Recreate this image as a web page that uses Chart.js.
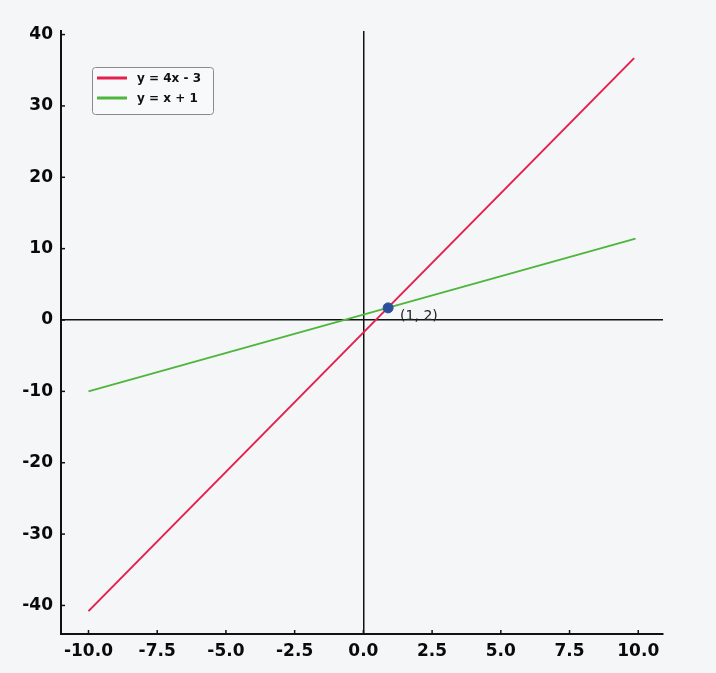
<!DOCTYPE html>
<html>
<head>
<meta charset="utf-8">
<script src="https://cdn.jsdelivr.net/npm/chart.js@4/dist/chart.umd.min.js"></script>
<style>
  html, body { margin: 0; padding: 0; background: #f5f6f8; }
  #wrap { width: 716px; height: 673px; }
</style>
</head>
<body>
<div id="wrap"><canvas id="lineChart"></canvas></div>
<script>
// values
const xTicks = [-10, -7.5, -5, -2.5, 0, 2.5, 5, 7.5, 10];
const yTicks = [-40, -30, -20, -10, 0, 10, 20, 30, 40];
const redX = [-10, 9.85];
const redY = [-40.8, 36.7];
const greenX = [-10, 9.9];
const greenY = [-10, 11.4];
const pointX = [0.9];
const pointY = [1.7];
const pointLabel = '(1, 2)';
const seriesLabels = ['y = 4x - 3', 'y = x + 1'];

const toXY = (xs, ys) => xs.map((x, i) => ({ x: x, y: ys[i] }));

// legend box + inward tick marks + point label
const extras = {
    id: 'extras',
    afterDraw(chart) {
        const ctx = chart.ctx;
        const area = chart.chartArea;
        const xs = chart.scales.x, ys = chart.scales.y;
        ctx.save();

        // tick marks pointing into the plot
        ctx.strokeStyle = '#111';
        ctx.lineWidth = 1.5;
        xTicks.forEach(v => {
            const px = xs.getPixelForValue(v);
            ctx.beginPath();
            ctx.moveTo(px, area.bottom);
            ctx.lineTo(px, area.bottom - 4);
            ctx.stroke();
        });
        yTicks.forEach(v => {
            const py = ys.getPixelForValue(v);
            ctx.beginPath();
            ctx.moveTo(area.left, py);
            ctx.lineTo(area.left + 4, py);
            ctx.stroke();
        });

        // label next to the intersection point
        const meta = chart.getDatasetMeta(2);
        const p = meta.data[0];
        ctx.fillStyle = '#222';
        ctx.font = '14px "DejaVu Sans"';
        ctx.textBaseline = 'middle';
        ctx.textAlign = 'left';
        ctx.fillText(pointLabel, p.x + 12, p.y + 8);

        // legend
        const bx = 92, by = 67, bw = 121, bh = 47;
        ctx.fillStyle = '#f8f9fa';
        ctx.strokeStyle = '#8a8a8a';
        ctx.lineWidth = 1;
        ctx.beginPath();
        ctx.roundRect(bx + 0.5, by + 0.5, bw, bh, 3);
        ctx.fill();
        ctx.stroke();
        ctx.font = 'bold 12px "DejaVu Sans"';
        [0, 1].forEach(i => {
            const ds = chart.data.datasets[i];
            const yy = by + 11 + i * 20;
            ctx.strokeStyle = ds.borderColor;
            ctx.lineWidth = 3;
            ctx.beginPath();
            ctx.moveTo(bx + 5, yy);
            ctx.lineTo(bx + 35, yy);
            ctx.stroke();
            ctx.fillStyle = '#111';
            ctx.fillText(ds.label, bx + 45, yy + 1);
        });
        ctx.restore();
    }
};

const zeroColor = c => (c.tick && c.tick.value === 0) ? '#111' : 'rgba(0,0,0,0)';

const ctx = document.getElementById('lineChart').getContext('2d');
new Chart(ctx, {
    type: 'scatter',
    data: {
        datasets: [{
            label: seriesLabels[0],
            data: toXY(redX, redY),
            showLine: true,
            borderColor: '#e3204f',
            borderWidth: 2,
            pointRadius: 0,
            order: 2
        }, {
            label: seriesLabels[1],
            data: toXY(greenX, greenY),
            showLine: true,
            borderColor: '#4fb63d',
            borderWidth: 2,
            pointRadius: 0,
            order: 2
        }, {
            label: 'point',
            data: toXY(pointX, pointY),
            backgroundColor: '#2c4f9c',
            borderColor: '#2c4f9c',
            pointRadius: 5,
            order: 1
        }]
    },
    options: {
        responsive: true,
        maintainAspectRatio: false,
        animation: false,
        layout: { padding: { top: 31, right: 53, left: 0, bottom: 0 } },
        scales: {
            x: {
                type: 'linear',
                min: -11,
                max: 10.9,
                afterBuildTicks: s => { s.ticks = xTicks.map(v => ({ value: v })); },
                afterFit: s => { s.height = 39; },
                border: { display: true, color: '#111', width: 2 },
                grid: { drawTicks: false, color: zeroColor, lineWidth: 1.5 },
                ticks: {
                    padding: 7,
                    color: '#0a0a0a',
                    font: { family: 'DejaVu Sans', weight: 'bold', size: 17 },
                    callback: v => v.toFixed(1)
                }
            },
            y: {
                type: 'linear',
                min: -44,
                max: 40.5,
                afterBuildTicks: s => { s.ticks = yTicks.map(v => ({ value: v })); },
                afterFit: s => { s.width = 61; },
                border: { display: true, color: '#111', width: 2 },
                grid: { drawTicks: false, color: zeroColor, lineWidth: 1.5 },
                ticks: {
                    padding: 8,
                    color: '#0a0a0a',
                    font: { family: 'DejaVu Sans', weight: 'bold', size: 17 },
                    callback: v => String(v)
                }
            }
        },
        plugins: {
            legend: { display: false },
            tooltip: { enabled: false }
        }
    },
    plugins: [extras]
});
</script>
</body>
</html>
